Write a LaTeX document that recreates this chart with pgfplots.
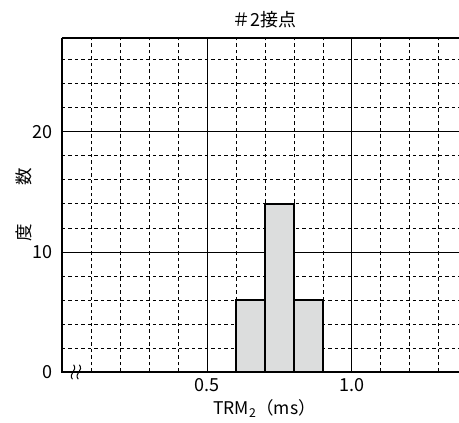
\documentclass[border=0pt]{standalone}
\usepackage{fontspec}
\setmainfont{Noto Sans CJK JP}
\usepackage{pgfplots}
\pgfplotsset{compat=1.18}
\usetikzlibrary{calc}
\definecolor{barfill}{HTML}{DCDDDD}
\begin{document}
\begin{tikzpicture}
\begin{axis}[
  name=ax,
  scale only axis,
  width=397pt, height=334pt,
  xmin=0, xmax=1.37, ymin=0, ymax=27.8,
  axis line style={draw=none},
  xtick={0.5,1.0}, minor xtick={0.1,0.2,0.3,0.4,0.6,0.7,0.8,0.9,1.1,1.2,1.3},
  ytick={0,10,20}, minor ytick={2,4,6,8,12,14,16,18,22,24,26},
  xticklabels={0.5,1.0},
  major tick length=0pt, minor tick length=0pt,
  grid=both,
  major grid style={black, line width=0.6pt},
  minor grid style={black, line width=0.6pt, dash pattern=on 3.5pt off 3pt},
  tick label style={font=\fontsize{18}{20}\selectfont},
  /pgf/number format/assume math mode=true,
  yticklabel style={xshift=-6pt},
  xticklabel style={yshift=-3pt},
  title={＃2接点},
  title style={at={(axis description cs:0.51,1)}, anchor=south, yshift=1pt, font=\fontsize{18}{20}\selectfont},
  xlabel={TRM\textsubscript{2}（ms）},
  xlabel style={at={(axis description cs:0.51,-0.11)}, anchor=center, font=\fontsize{17.5}{19}\selectfont},
  ylabel={度\hspace{2.2em}数},
  ylabel style={at={(axis description cs:-0.096,0.5)}, anchor=center, font=\fontsize{17.5}{19}\selectfont},
  clip=false,
]
\addplot[ybar interval, fill=barfill, draw=black, line width=1.6pt] coordinates {(0.6,6) (0.7,14) (0.8,6) (0.9,0)};
\draw[line width=1.8pt] (rel axis cs:0,1) -- (rel axis cs:0,0) -- (rel axis cs:1,0);
\draw[line width=1.2pt] (rel axis cs:0,1) -- (rel axis cs:1,1);
\draw[line width=1pt] (axis cs:0.036,-0.6) .. controls (axis cs:0.020,-0.1) and (axis cs:0.056,0.1) .. (axis cs:0.040,0.6);
\draw[line width=1pt] (axis cs:0.056,-0.6) .. controls (axis cs:0.040,-0.1) and (axis cs:0.076,0.1) .. (axis cs:0.060,0.6);
\end{axis}
\pgfresetboundingbox
\path ($(ax.south west)+(-62pt,-51pt)$) rectangle ($(ax.north east)+(0pt,38pt)$);
\end{tikzpicture}
\end{document}
